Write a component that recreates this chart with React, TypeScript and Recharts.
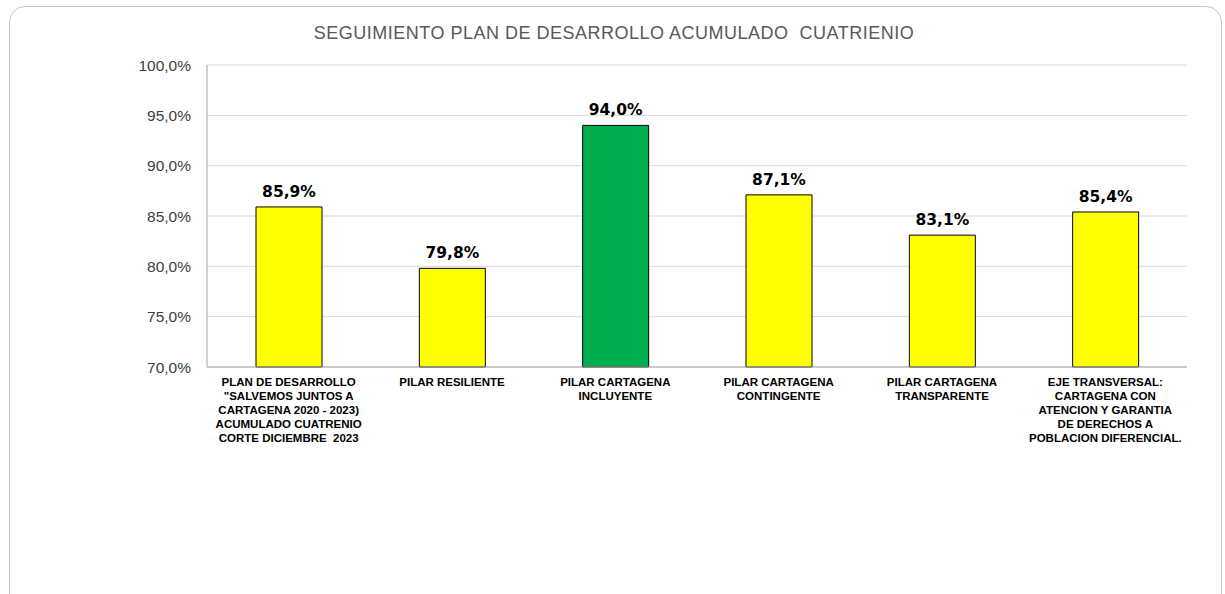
import React from "react";
import { BarChart, Bar, XAxis, YAxis, CartesianGrid, Cell, LabelList } from "recharts";

const categories = [
	'PLAN DE DESARROLLO\n"SALVEMOS JUNTOS A\nCARTAGENA 2020 - 2023)\nACUMULADO CUATRENIO\nCORTE DICIEMBRE  2023',
	"PILAR RESILIENTE",
	"PILAR CARTAGENA\nINCLUYENTE",
	"PILAR CARTAGENA\nCONTINGENTE",
	"PILAR CARTAGENA\nTRANSPARENTE",
	"EJE TRANSVERSAL:\nCARTAGENA CON\nATENCION Y GARANTIA\nDE DERECHOS A\nPOBLACION DIFERENCIAL.",
];
const values = [85.9, 79.8, 94.0, 87.1, 83.1, 85.4];
const barColors = ["#FFFF00", "#FFFF00", "#00B050", "#FFFF00", "#FFFF00", "#FFFF00"];
const yTicks = [70, 75, 80, 85, 90, 95, 100];

const TITLE = "SEGUIMIENTO PLAN DE DESARROLLO ACUMULADO  CUATRIENIO";

const data = categories.map((name, i) => ({ name, value: values[i] }));

const fmt = (v: number) => `${v.toFixed(1).replace(".", ",")}%`;

const CategoryTick = (props: any) => {
	const { x, y, payload } = props;
	const lines = String(payload.value).split("\n");
	return (
		<text
			x={x}
			y={y + 11}
			textAnchor="middle"
			fill="#000"
			fontFamily="'Liberation Sans', Arial, sans-serif"
			fontWeight="bold"
			fontSize={11.5}
			style={{ whiteSpace: "pre" }}
		>
			{lines.map((line, i) => (
				<tspan key={i} x={x} dy={i === 0 ? 0 : 14}>
					{line}
				</tspan>
			))}
		</text>
	);
};

export default function App() {
	return (
		<div style={{ position: "fixed", left: 0, top: 0, width: 1225, height: 594, overflow: "hidden", background: "#fff" }}>
			<div
				style={{
					position: "absolute",
					left: 9,
					top: 6,
					width: 1211,
					height: 640,
					border: "1px solid #c6c6c6",
					borderRadius: 16,
				}}
			/>
			<div
				style={{
					position: "absolute",
					left: 0,
					top: 23,
					width: 1228,
					textAlign: "center",
					fontFamily: "'Liberation Sans', Arial, sans-serif",
					fontSize: 18,
					color: "#595959",
					whiteSpace: "pre",
					letterSpacing: 0.5,
				}}
			>
				{TITLE}
			</div>
			<div style={{ position: "absolute", left: 0, top: 0 }}>
				<BarChart
					width={1225}
					height={594}
					data={data}
					margin={{ top: 65, right: 38, bottom: 117, left: 127 }}
				>
					<CartesianGrid vertical={false} stroke="#d9d9d9" />
					<XAxis
						dataKey="name"
						interval={0}
						height={110}
						tick={<CategoryTick />}
						tickLine={false}
						axisLine={{ stroke: "#a6a6a6" }}
					/>
					<YAxis
						width={80}
						domain={[70, 100]}
						ticks={yTicks}
						tickFormatter={fmt}
						tickLine={false}
						axisLine={{ stroke: "#a6a6a6" }}
						tick={{ fill: "#404040", fontSize: 15.5, fontFamily: "'Liberation Sans', Arial, sans-serif" }}
						tickMargin={10}
					/>
					<Bar dataKey="value" barSize={66} stroke="#000" strokeWidth={1} isAnimationActive={false}>
						{data.map((_, i) => (
							<Cell key={i} fill={barColors[i]} />
						))}
						<LabelList
							dataKey="value"
							position="top"
							offset={10}
							formatter={(v: any) => fmt(Number(v))}
							style={{
								fill: "#000",
								fontWeight: "bold",
								fontSize: 15.5,
								fontFamily: "'DejaVu Sans', sans-serif",
							}}
						/>
					</Bar>
				</BarChart>
			</div>
		</div>
	);
}
